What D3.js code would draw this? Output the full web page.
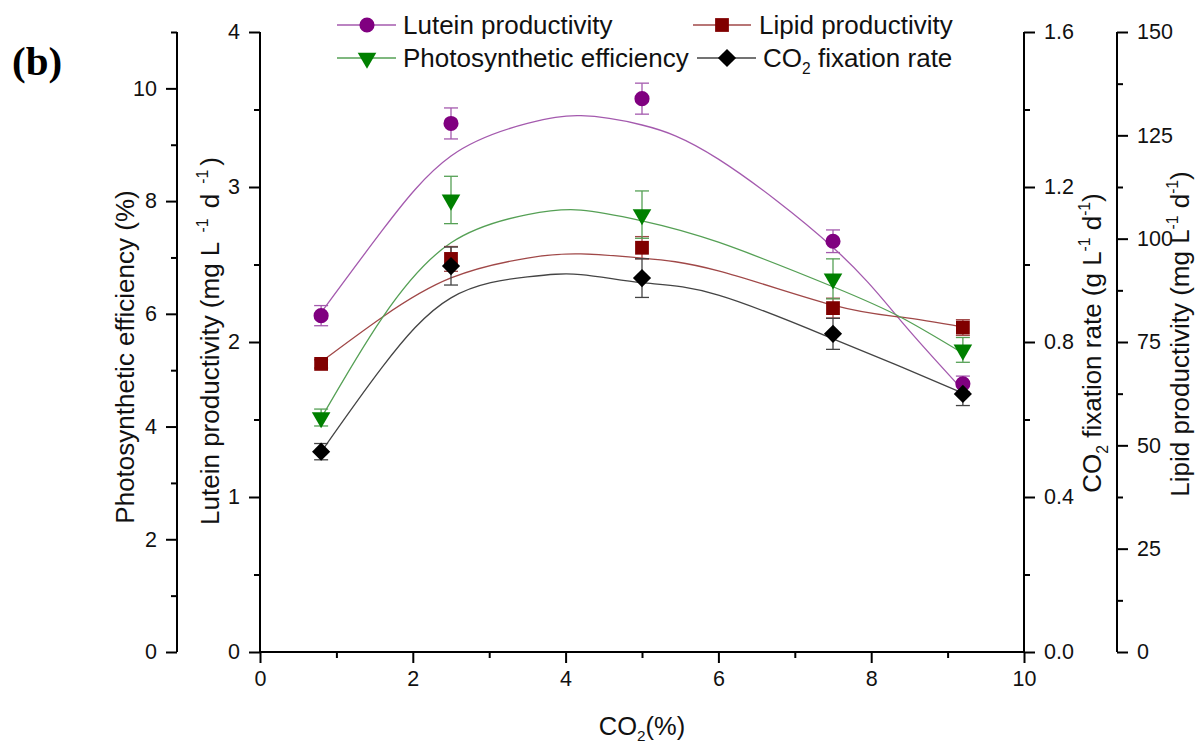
<!DOCTYPE html>
<html>
<head>
<meta charset="utf-8">
<script src="https://cdn.jsdelivr.net/npm/d3@7"></script>
<style>
  body { margin: 0; background: #fff; }
  svg { display: block; }
</style>
</head>
<body>
<div class="content"></div>
<script>
// CO2 levels tested (%)
var co2Levels = [0.8, 2.5, 5.0, 7.5, 9.2];

// measured values + error bars
var lutein    = [2.17, 3.41, 3.57, 2.65, 1.73];
var luteinErr = [0.065, 0.10, 0.10, 0.073, 0.05];
var lipid     = [69.7, 95.1, 97.8, 83.2, 78.5];
var lipidErr  = [1.0, 3.0, 2.7, 2.4, 1.9];
var photoEff    = [4.16, 8.02, 7.76, 6.62, 5.36];
var photoEffErr = [0.15, 0.42, 0.42, 0.355, 0.22];
var co2Fix    = [0.517, 0.996, 0.965, 0.821, 0.666];
var co2FixErr = [0.021, 0.049, 0.05, 0.04, 0.03];

// fitted curves at these x positions
var fitX = [0.8, 1.6, 2.5, 3.5, 4.2, 5.0, 6.0, 7.5, 8.4, 9.2];
var luteinFit   = [2.19, 2.72, 3.20, 3.41, 3.46, 3.40, 3.18, 2.61, 2.13, 1.69];
var lipidFit    = [70.2, 81.0, 90.5, 95.3, 96.3, 95.3, 92.2, 83.9, 81.0, 78.6];
var photoEffFit = [4.15, 5.93, 7.26, 7.76, 7.84, 7.65, 7.27, 6.48, 5.93, 5.30];
var co2FixFit   = [0.516, 0.735, 0.914, 0.968, 0.974, 0.953, 0.921, 0.808, 0.735, 0.668];

// tick labels
var xTicks = [0, 2, 4, 6, 8, 10];
var luteinTicks = [0, 1, 2, 3, 4];
var photoTicks = [0, 2, 4, 6, 8, 10];
var co2FixTicks = [0.0, 0.4, 0.8, 1.2, 1.6];
var lipidTicks = [0, 25, 50, 75, 100, 125, 150];

var font = "'Liberation Sans', Arial, sans-serif";
var W = 1197, H = 745;
var plotLeft = 260, plotRight = 1024, plotTop = 32, plotBottom = 652;

var svg = d3.select(".content").append("svg")
    .attr("width", W)
    .attr("height", H)
    .style("font-family", font);

// scales
var x = d3.scaleLinear().domain([0, 10]).range([plotLeft, plotRight]);
var yLutein = d3.scaleLinear().domain([0, 4]).range([plotBottom, plotTop]);
var yPhoto = d3.scaleLinear().domain([0, 11]).range([plotBottom, plotTop]);
var yCo2 = d3.scaleLinear().domain([0, 1.6]).range([plotBottom, plotTop]);
var yLipid = d3.scaleLinear().domain([0, 150]).range([plotBottom, plotTop]);

// helper: draws a major + minor tick axis
function drawAxis(axisFn, scale, pos, major, minor, fmt, isX) {
  var g = svg.append("g")
    .attr("transform", isX ? "translate(0," + pos + ")" : "translate(" + pos + ",0)");
  g.append("g").call(axisFn(scale).tickValues(minor).tickSize(6).tickFormat(""));
  g.append("g").call(axisFn(scale).tickValues(major).tickSize(11).tickPadding(isX ? 8 : 9).tickFormat(fmt));
  g.selectAll("path.domain").remove();
  g.append("line")
    .attr(isX ? "x1" : "y1", isX ? plotLeft : plotTop)
    .attr(isX ? "x2" : "y2", isX ? plotRight : plotBottom)
    .attr("stroke", "#000").attr("stroke-width", 2);
  g.selectAll(".tick line").attr("stroke", "#000").attr("stroke-width", 2);
  g.selectAll(".tick text")
    .style("font-family", font)
    .style("font-size", "21.5px")
    .attr("fill", "#111");
  return g;
}

function halfSteps(max, step) {
  var out = [];
  for (var v = step / 2; v <= max + 1e-9; v += step) out.push(+v.toFixed(4));
  return out;
}

drawAxis(d3.axisBottom, x, plotBottom, xTicks, [1, 3, 5, 7, 9], d3.format("d"), true);
drawAxis(d3.axisLeft, yLutein, plotLeft, luteinTicks, halfSteps(4, 1), d3.format("d"));
drawAxis(d3.axisLeft, yPhoto, 177, photoTicks, [1, 3, 5, 7, 9, 11], d3.format("d"));
drawAxis(d3.axisRight, yCo2, plotRight, co2FixTicks, halfSteps(1.6, 0.4), d3.format(".1f"));
drawAxis(d3.axisRight, yLipid, 1117, lipidTicks, halfSteps(150, 25), d3.format("d"));

// text with sub/superscripts; optional third item = extra dx before the part
function richText(sel, parts, size) {
  var shift = 0;
  parts.forEach(function(p) {
    var kind = p[1];
    var target = kind === "sup" ? -0.42 * size : kind === "sub" ? 0.25 * size : 0;
    sel.append("tspan")
      .attr("dx", p[2] || 0)
      .attr("dy", target - shift)
      .attr("font-size", kind ? size * 0.6 : size)
      .text(p[0]);
    shift = target;
  });
  return sel;
}

var titleSize = 26;
function vTitle(cx, cy, parts) {
  var t = svg.append("text")
    .attr("transform", "translate(" + cx + "," + cy + ") rotate(-90)")
    .attr("text-anchor", "middle")
    .attr("fill", "#111");
  richText(t, parts, titleSize);
}

vTitle(134, 357, [["Photosynthetic efficiency (%)"]]);
vTitle(219, 341, [["Lutein productivity (mg L "], ["-1", "sup", 3], [" d ", null, 3], ["-1", "sup", 3], [")", null, 4]]);
vTitle(1101, 343, [["CO"], ["2", "sub"], [" fixation rate (g L"], ["-1", "sup"], [" d"], ["-1", "sup"], [")"]]);
vTitle(1189, 334, [["Lipid productivity (mg L"], ["-1", "sup"], [" d"], ["-1", "sup"], [")"]]);

var xTitle = svg.append("text")
  .attr("x", x(5)).attr("y", 735)
  .attr("text-anchor", "middle")
  .attr("fill", "#111");
richText(xTitle, [["CO"], ["2", "sub"], ["(%)"]], 25.5);

svg.append("text")
  .attr("x", 12).attr("y", 75)
  .style("font-family", "'Liberation Serif', 'Times New Roman', serif")
  .style("font-weight", "bold")
  .style("font-size", "41px")
  .text("(b)");

// series definitions
var series = [
  {name: "lutein", y: yLutein, vals: lutein, err: luteinErr, fit: luteinFit,
   color: "#800080", lineColor: "#a45aae", shape: "circle"},
  {name: "lipid", y: yLipid, vals: lipid, err: lipidErr, fit: lipidFit,
   color: "#800000", lineColor: "#a04848", shape: "square"},
  {name: "photo", y: yPhoto, vals: photoEff, err: photoEffErr, fit: photoEffFit,
   color: "#008000", lineColor: "#55a055", shape: "triangle"},
  {name: "co2fix", y: yCo2, vals: co2Fix, err: co2FixErr, fit: co2FixFit,
   color: "#000000", lineColor: "#444444", shape: "diamond"}
];

function symbolPath(shape) {
  if (shape === "circle") return d3.symbol().type(d3.symbolCircle).size(180)();
  if (shape === "square") return d3.symbol().type(d3.symbolSquare).size(190)();
  if (shape === "triangle") return d3.symbol().type(d3.symbolTriangle).size(150)();
  return d3.symbol().type(d3.symbolSquare).size(165)();
}
function symbolRotate(shape) {
  if (shape === "triangle") return " rotate(180)";
  if (shape === "diamond") return " rotate(45)";
  return "";
}

// fitted curves
series.forEach(function(s) {
  var line = d3.line()
    .x(function(d, i) { return x(fitX[i]); })
    .y(function(d) { return s.y(d); })
    .curve(d3.curveNatural);
  svg.append("path")
    .attr("d", line(s.fit))
    .attr("fill", "none")
    .attr("stroke", s.lineColor)
    .attr("stroke-width", 1.3);
});

// error bars
series.forEach(function(s) {
  var g = svg.append("g").attr("stroke", s.lineColor).attr("stroke-width", 1.3);
  s.vals.forEach(function(v, i) {
    var cx = x(co2Levels[i]), y1 = s.y(v - s.err[i]), y2 = s.y(v + s.err[i]);
    g.append("line").attr("x1", cx).attr("x2", cx).attr("y1", y1).attr("y2", y2);
    g.append("line").attr("x1", cx - 7).attr("x2", cx + 7).attr("y1", y1).attr("y2", y1);
    g.append("line").attr("x1", cx - 7).attr("x2", cx + 7).attr("y1", y2).attr("y2", y2);
  });
});

// markers
series.forEach(function(s) {
  svg.append("g").selectAll("path")
    .data(s.vals)
    .enter()
    .append("path")
      .attr("d", symbolPath(s.shape))
      .attr("transform", function(d, i) {
        return "translate(" + x(co2Levels[i]) + "," + s.y(d) + ")" + symbolRotate(s.shape);
      })
      .attr("fill", s.color);
});

// legend
var legendItems = [
  {s: series[0], cx: 367, cy: 25, x1: 337, x2: 396, tx: 403, parts: [["Lutein productivity"]]},
  {s: series[1], cx: 722, cy: 25, x1: 693, x2: 751, tx: 759, parts: [["Lipid productivity"]]},
  {s: series[2], cx: 367, cy: 58, x1: 337, x2: 396, tx: 403, parts: [["Photosynthetic efficiency"]]},
  {s: series[3], cx: 727, cy: 58, x1: 697, x2: 756, tx: 763, parts: [["CO"], ["2", "sub"], [" fixation rate"]]}
];
legendItems.forEach(function(it) {
  svg.append("line")
    .attr("x1", it.x1).attr("x2", it.x2)
    .attr("y1", it.cy).attr("y2", it.cy)
    .attr("stroke", it.s.lineColor).attr("stroke-width", 1.3);
  svg.append("path")
    .attr("d", symbolPath(it.s.shape))
    .attr("transform", "translate(" + it.cx + "," + it.cy + ")" + symbolRotate(it.s.shape))
    .attr("fill", it.s.color);
  var t = svg.append("text")
    .attr("x", it.tx).attr("y", it.cy + 9)
    .attr("fill", "#111");
  richText(t, it.parts, 26);
});
</script>
</body>
</html>
